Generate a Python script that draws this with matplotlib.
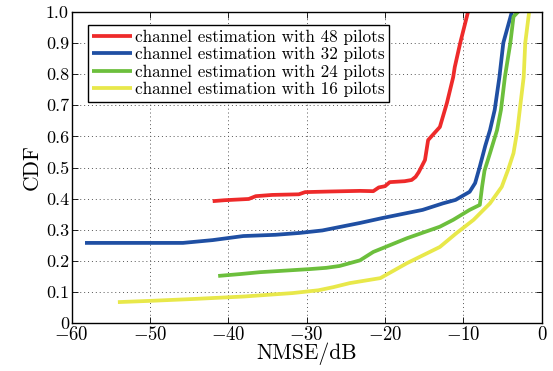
import matplotlib
matplotlib.use("Agg")
import matplotlib.pyplot as plt
from matplotlib.ticker import FixedLocator, FuncFormatter

plt.rcParams['font.family'] = 'cmr10'
plt.rcParams['mathtext.fontset'] = 'cm'
plt.rcParams['axes.unicode_minus'] = False

x48 = [-42.0, -40.5, -37.4, -36.5, -34.4, -31.0, -30.2, -27.0, -23.2, -21.5, -20.8, -20.0, -19.4, -17.5, -16.6, -16.1, -15.7, -14.9, -14.5, -13.0, -12.1, -11.3, -11.1, -10.4, -9.4]
y48 = [0.392, 0.395, 0.399, 0.408, 0.412, 0.414, 0.421, 0.423, 0.425, 0.424, 0.436, 0.44, 0.453, 0.456, 0.46, 0.47, 0.485, 0.524, 0.588, 0.63, 0.707, 0.79, 0.822, 0.9, 1.0]

x32 = [-58.3, -52.0, -45.8, -42.0, -38.1, -34.0, -30.9, -28.0, -25.8, -23.2, -20.3, -15.2, -12.6, -11.0, -9.2, -8.5, -7.9, -7.2, -6.6, -6.0, -5.4, -4.9, -3.8]
y32 = [0.258, 0.258, 0.258, 0.267, 0.280, 0.284, 0.290, 0.298, 0.309, 0.322, 0.338, 0.364, 0.385, 0.396, 0.422, 0.45, 0.503, 0.57, 0.62, 0.685, 0.79, 0.9, 1.0]

x24 = [-41.3, -38.5, -36.0, -29.6, -27.5, -25.8, -23.2, -21.5, -17.2, -13.0, -11.3, -9.2, -7.9, -7.6, -7.3, -6.6, -5.7, -5.2, -4.7, -4.0, -3.6, -3.0]
y24 = [0.152, 0.158, 0.164, 0.174, 0.178, 0.184, 0.202, 0.229, 0.273, 0.31, 0.332, 0.364, 0.38, 0.44, 0.49, 0.546, 0.62, 0.685, 0.79, 0.9, 0.984, 1.0]

x16 = [-54.1, -50.0, -44.5, -38.0, -31.8, -28.5, -26.6, -24.5, -20.6, -17.2, -13.0, -10.9, -8.7, -6.6, -5.1, -4.3, -3.6, -3.1, -2.8, -2.3, -2.1, -1.6]
y16 = [0.068, 0.072, 0.078, 0.086, 0.097, 0.106, 0.116, 0.129, 0.145, 0.193, 0.245, 0.289, 0.332, 0.385, 0.438, 0.492, 0.546, 0.62, 0.685, 0.79, 0.9, 1.0]

labels = ['channel estimation with 48 pilots', 'channel estimation with 32 pilots',
          'channel estimation with 24 pilots', 'channel estimation with 16 pilots']
colors = ['#EE2A2A', '#1F4FA3', '#6CBF3C', '#E8E84A']

xticks = [-60, -50, -40, -30, -20, -10, 0]
yticks = [0, 0.1, 0.2, 0.3, 0.4, 0.5, 0.6, 0.7, 0.8, 0.9, 1.0]
ytick_labels = ['0', '0.1', '0.2', '0.3', '0.4', '0.5', '0.6', '0.7', '0.8', '0.9', '1.0']

fig = plt.figure(figsize=(5.53, 3.71), dpi=100)
ax = fig.add_axes([71.7 / 553, 47.7 / 371, 470 / 553, 311.6 / 371])

for xs, ys, c, l in zip([x48, x32, x24, x16], [y48, y32, y24, y16], colors, labels):
    ax.plot(xs, ys, color=c, lw=2.7, label=l, solid_capstyle='butt')

ax.set_xlim(-60, 0)
ax.set_ylim(0, 1)
ax.xaxis.set_major_locator(FixedLocator(xticks))
ax.yaxis.set_major_locator(FixedLocator(yticks))
ax.xaxis.set_major_formatter(FuncFormatter(lambda v, p: r'$%d$' % v if v < 0 else '0'))
ax.set_yticklabels(ytick_labels)
ax.tick_params(direction='in', top=True, right=True, length=4, width=0.6, labelsize=13, pad=2)
for lab in ax.get_xticklabels():
    lab.set_fontsize(13.5)
ax.grid(True, linestyle=(0, (1, 3)), color='#555555', lw=0.7)
for s in ax.spines.values():
    s.set_linewidth(1.0)

ax.set_xlabel('NMSE/dB', fontsize=15.5, labelpad=-1)
ax.set_ylabel('CDF', fontsize=15.5, labelpad=3)

leg = ax.legend(loc='upper left', bbox_to_anchor=(0.035, 0.957), fontsize=12.3, frameon=True,
                fancybox=False, edgecolor='black', framealpha=1, handlelength=2.3,
                handletextpad=0.2, borderpad=0.25, labelspacing=0.13, borderaxespad=0)
leg.get_frame().set_linewidth(1.0)

fig.savefig('out.png', dpi=100)
